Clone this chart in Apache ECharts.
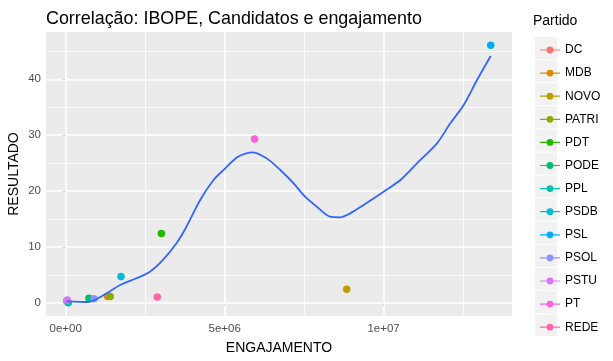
<!DOCTYPE html>
<html>
<head>
<meta charset="utf-8">
<script src="https://cdn.jsdelivr.net/npm/echarts@6/dist/echarts.min.js"></script>
<style>html,body{margin:0;padding:0;background:#fff;}#c{width:613px;height:361px;}</style>
</head>
<body>
<div id="c"></div>
<script>
var parties = ['DC','MDB','NOVO','PATRI','PDT','PODE','PPL','PSDB','PSL','PSOL','PSTU','PT','REDE'];
var colors = ['#F8766D','#E18A00','#BE9C00','#8CAB00','#24B700','#00BE70','#00C1AB','#00BBDA','#00ACFC','#8B93FF','#D575FE','#F962DD','#FF65AC'];
var engajamento = [30000, 1320000, 8840000, 1400000, 3010000, 730000, 80000, 1740000, 13370000, 890000, 50000, 5940000, 2880000];
var resultado = [0.3, 1.1, 2.4, 1.1, 12.4, 0.8, 0.0, 4.7, 46.1, 0.7, 0.5, 29.3, 1.0];

var smoothX = [30000, 700000, 1290000, 1710000, 2240000, 2650000, 3060000, 3490000, 3760000, 4230000, 4650000, 5020000, 5380000, 5650000, 5910000, 6180000, 6430000, 6750000, 7170000, 7530000, 7900000, 8320000, 8640000, 8950000, 9370000, 10000000, 10530000, 11050000, 11680000, 12100000, 12520000, 12940000, 13370000];
var smoothY = [0.30, 0.13, 1.68, 3.17, 4.42, 5.55, 7.65, 10.69, 13.2, 18.4, 21.98, 24.06, 26.0, 26.7, 26.93, 26.3, 25.4, 23.76, 21.38, 18.98, 17.19, 15.40, 15.29, 16.0, 17.49, 19.87, 21.97, 24.96, 28.54, 32.12, 35.40, 39.87, 44.17];

var xTicks = [0, 5000000, 10000000];
var xMinor = [2500000, 7500000, 12500000];
var yTicks = [0, 10, 20, 30, 40];
var yMinor = [5, 15, 25, 35, 45];

function sci(v) {
  if (v === 0) return '0e+00';
  var e = Math.floor(Math.log10(Math.abs(v)) + 1e-9);
  var m = Math.round(v / Math.pow(10, e));
  return m + 'e+' + (e < 10 ? '0' + e : e);
}

var chart = echarts.init(document.getElementById('c'), null, {renderer: 'canvas'});
var FONT = 'Liberation Sans, Arial, sans-serif';

var gridLines = [];
xMinor.forEach(function (v) { gridLines.push({xAxis: v, lineStyle: {color: '#fff', width: 0.8, type: 'solid'}}); });
yMinor.forEach(function (v) { gridLines.push({yAxis: v, lineStyle: {color: '#fff', width: 0.8, type: 'solid'}}); });
xTicks.forEach(function (v) { gridLines.push({xAxis: v, lineStyle: {color: '#fff', width: 1.6, type: 'solid'}}); });
yTicks.forEach(function (v) { gridLines.push({yAxis: v, lineStyle: {color: '#fff', width: 1.6, type: 'solid'}}); });

var series = [{
  name: '_grid', type: 'scatter', data: [], silent: true, z: 1,
  markLine: {silent: true, z: 1, symbol: ['none', 'none'], label: {show: false}, animation: false, data: gridLines}
}];
parties.forEach(function (p, i) {
  series.push({
    name: p, type: 'scatter', symbol: 'circle', symbolSize: 7.5, z: 3,
    itemStyle: {color: colors[i], opacity: 1},
    data: [[engajamento[i], resultado[i]]]
  });
});
series.push({
  name: '_loess', type: 'line', z: 4, symbol: 'none', smooth: 0.3,
  lineStyle: {color: '#3366FF', width: 1.8},
  data: smoothX.map(function (x, i) { return [x, smoothY[i]]; })
});

var legendIcon = 'path://M0,4.4L20,4.4L20,5.6L0,5.6Z M13.4,5A3.4,3.4 0 1 1 6.6,5A3.4,3.4 0 1 1 13.4,5Z';

var keyRects = [];
for (var k = 0; k < parties.length; k++) {
  keyRects.push({type: 'rect', left: 535, top: 37 + k * 23.1, shape: {width: 22, height: 22}, style: {fill: '#F2F2F2'}, z: -1});
}

chart.setOption({
  animation: false,
  backgroundColor: '#fff',
  textStyle: {fontFamily: FONT},
  title: {
    text: 'Correlação: IBOPE, Candidatos e engajamento',
    left: 41, top: 5,
    textStyle: {fontFamily: FONT, fontSize: 17.9, fontWeight: 'normal', color: '#000'}
  },
  grid: {left: 46, right: 101, top: 32, bottom: 45, show: true, backgroundColor: '#EBEBEB', borderWidth: 0, outerBoundsMode: 'none', containLabel: false},
  xAxis: {
    type: 'value', min: -620000, max: 14040000, splitNumber: 3,
    name: 'ENGAJAMENTO', nameLocation: 'middle', nameGap: 25,
    nameTextStyle: {fontFamily: FONT, fontSize: 14, color: '#000'},
    axisLine: {show: false},
    axisTick: {show: true, length: 3, lineStyle: {color: '#333', width: 1}, customValues: xTicks},
    axisLabel: {color: '#4D4D4D', fontSize: 11.5, fontFamily: FONT, margin: 7, formatter: sci, customValues: xTicks},
    splitLine: {show: false}
  },
  yAxis: {
    type: 'value', min: -2.38, max: 48.47, splitNumber: 5,
    name: 'RESULTADO', nameLocation: 'middle', nameGap: 25, nameRotate: 90, nameMoveOverlap: false,
    nameTextStyle: {fontFamily: FONT, fontSize: 14, color: '#000'},
    axisLine: {show: false},
    axisTick: {show: true, length: 3, lineStyle: {color: '#333', width: 1}, customValues: yTicks},
    axisLabel: {color: '#4D4D4D', fontSize: 11.5, fontFamily: FONT, margin: 5, customValues: yTicks},
    splitLine: {show: false}
  },
  legend: {
    type: 'plain',
    orient: 'vertical', left: 535, top: 39,
    itemWidth: 20, itemHeight: 10, itemGap: 11.1,
    icon: legendIcon,
    data: parties,
    textStyle: {fontFamily: FONT, fontSize: 12, color: '#000'},
    selectedMode: false
  },
  graphic: [{
    type: 'text', left: 533, top: 14,
    style: {text: 'Partido', font: '14px ' + FONT, fill: '#000'}
  }].concat(keyRects),
  series: series
});
</script>
</body>
</html>
